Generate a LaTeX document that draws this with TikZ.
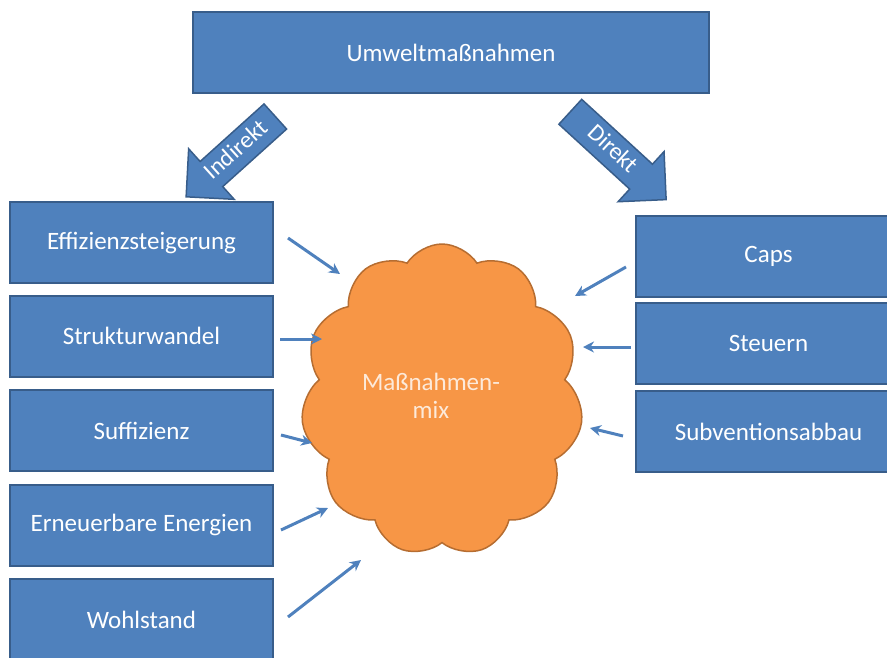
\documentclass[tikz,border=0pt]{standalone}
\usepackage{fontspec}
\setmainfont{Carlito}
\usetikzlibrary{shapes.symbols,shapes.arrows,arrows.meta}
\definecolor{boxblue}{HTML}{4F81BD}
\definecolor{boxline}{HTML}{385D8A}
\definecolor{cloudfill}{HTML}{F79646}
\definecolor{cloudline}{HTML}{B66D31}
\definecolor{cloudtext}{HTML}{FDEADA}
\tikzset{
  bluebox/.style={draw=boxline, line width=2pt, fill=boxblue, text=white,
    font=\fontsize{25}{30}\selectfont, inner sep=0pt},
  leftbox/.style={bluebox, minimum width=263pt, minimum height=81pt},
  rightbox/.style={bluebox, minimum width=265pt, minimum height=81pt},
  bigarrow/.style={single arrow, draw=boxline, line width=1.5pt, fill=boxblue, text=white,
    font=\fontsize{24}{28}\selectfont, minimum width=68pt, single arrow head extend=17pt,
    text height=17pt, text depth=5pt, inner ysep=5pt, inner xsep=2pt},
  smallarrow/.style={draw=boxblue, line width=3pt, -{Stealth[length=11pt,width=11pt]}},
}
\begin{document}
\begin{tikzpicture}[x=1pt,y=-1pt]
\useasboundingbox (0,0) rectangle (887,657);
\clip (0,0) rectangle (887,657);
% top box
\node[bluebox, minimum width=516pt, minimum height=81pt] (top) at (451,52.5) {Umweltmaßnahmen};
% big arrows
\node[bigarrow, shape border rotate=180, rotate=42, minimum height=120pt] (ind) at (237,151) {Indirekt};
\node[bigarrow, rotate=-42.5, minimum height=130pt] (dir) at (612,150) {Direkt};
% left boxes
\node[leftbox] (l1) at (141.5,242.5) {Effizienzsteigerung};
\node[leftbox] (l2) at (141.5,336) {Strukturwandel};
\node[leftbox] (l3) at (141.5,430.5) {Suffizienz};
\node[leftbox] (l4) at (141.5,525) {Erneuerbare Energien};
\node[leftbox] (l5) at (141.5,619.5) {Wohlstand};
% right boxes
\node[rightbox] (r1) at (768.5,256.5) {Caps};
\node[rightbox] (r2) at (768.5,343) {Steuern};
\node[rightbox] (r3) at (768.5,431.5) {Subventionsabbau};
% cloud
\node[cloud, cloud puffs=11, cloud puff arc=115, cloud ignores aspect, draw=cloudline, line width=1.5pt,
  fill=cloudfill, minimum width=282pt, minimum height=312pt, inner sep=0pt] (mix) at (442,400) {};
\node[text=cloudtext, font=\fontsize{25}{28}\selectfont, align=center] (mixtext) at (431,396) {Maßnahmen-\\mix};
% arrow endpoints
\coordinate (a1s) at (288,238); \coordinate (a1e) at (340,274);
\coordinate (a2s) at (280,339); \coordinate (a2e) at (322,339);
\coordinate (a3s) at (281,435); \coordinate (a3e) at (312,443);
\coordinate (a4s) at (281,530); \coordinate (a4e) at (328,508);
\coordinate (a5s) at (288,617); \coordinate (a5e) at (361,560);
\coordinate (b1s) at (626,267); \coordinate (b1e) at (575,296);
\coordinate (b2s) at (631,347); \coordinate (b2e) at (583,347);
\coordinate (b3s) at (623,436); \coordinate (b3e) at (590,428);
\foreach \s/\e in {a1s/a1e,a2s/a2e,a3s/a3e,a4s/a4e,a5s/a5e,b1s/b1e,b2s/b2e,b3s/b3e}
  \draw[smallarrow] (\s) -- (\e);
\end{tikzpicture}
\end{document}
